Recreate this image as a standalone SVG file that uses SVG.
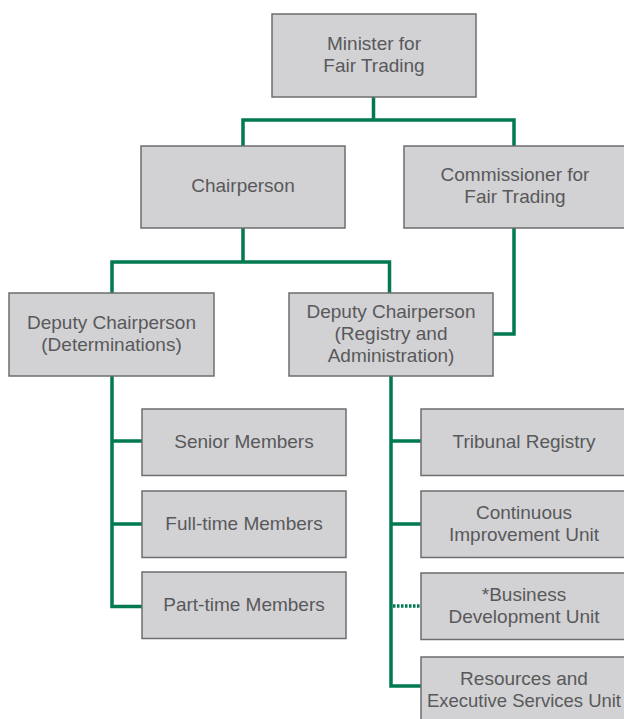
<svg xmlns="http://www.w3.org/2000/svg" width="624" height="719" viewBox="0 0 624 719">
<style>
.box{fill:#d2d1d3;stroke:#6d6e71;stroke-width:1.5}
.t{font-family:"Liberation Sans",Arial,sans-serif;font-size:19px;fill:#58595b;text-anchor:middle}
.c{fill:none;stroke:#007a4e;stroke-width:3.5;stroke-linejoin:miter;stroke-linecap:butt}
.d{fill:none;stroke:#007a4e;stroke-width:3.5;stroke-dasharray:2.5 1.5}
</style>
<rect width="624" height="719" fill="#ffffff"/>
<g id="connectors">
<path class="c" d="M373.5,97 V120 M243,228 V120 H514 V146 M243,120 V146"/>
<path class="c" d="M243,228 V262 M112,293 V262 H389.5 V293"/>
<path class="c" d="M514,228 V334 H493"/>
<path class="c" d="M112,376 V606.5 H142 M110.3,441 H142 M110.3,524 H142"/>
<path class="c" d="M391,376 V686 H421 M389.3,441 H421 M389.3,524 H421"/>
<path class="d" d="M393,606 H421"/>
</g>
<g id="minister"><rect class="box" x="272" y="14" width="204" height="83"/><text class="t" x="374" y="50">Minister for</text><text class="t" x="374" y="72">Fair Trading</text></g>
<g id="chairperson"><rect class="box" x="141" y="146" width="204" height="82"/><text class="t" x="243" y="191.5">Chairperson</text></g>
<g id="commissioner"><rect class="box" x="404" y="146" width="222" height="82"/><text class="t" x="515" y="180.8">Commissioner for</text><text class="t" x="515" y="202.8">Fair Trading</text></g>
<g id="deputy-determinations"><rect class="box" x="9" y="293" width="205" height="83"/><text class="t" x="111.5" y="328.5">Deputy Chairperson</text><text class="t" x="111.5" y="350.5">(Determinations)</text></g>
<g id="deputy-registry"><rect class="box" x="289" y="293" width="204" height="83"/><text class="t" x="391" y="318">Deputy Chairperson</text><text class="t" x="391" y="340">(Registry and</text><text class="t" x="391" y="362">Administration)</text></g>
<g id="senior-members"><rect class="box" x="142" y="409" width="204" height="66.5"/><text class="t" x="244" y="447.5">Senior Members</text></g>
<g id="fulltime-members"><rect class="box" x="142" y="491" width="204" height="66.5"/><text class="t" x="244" y="529.5">Full-time Members</text></g>
<g id="parttime-members"><rect class="box" x="142" y="572" width="204" height="66.5"/><text class="t" x="244" y="610.5">Part-time Members</text></g>
<g id="tribunal-registry"><rect class="box" x="421" y="409" width="206" height="66.5"/><text class="t" x="524" y="447.5">Tribunal Registry</text></g>
<g id="continuous-improvement"><rect class="box" x="421" y="491" width="206" height="66.5"/><text class="t" x="524" y="518.5">Continuous</text><text class="t" x="524" y="540.5">Improvement Unit</text></g>
<g id="business-development"><rect class="box" x="421" y="573" width="206" height="66.5"/><text class="t" x="524" y="600.5">*Business</text><text class="t" x="524" y="622.5">Development Unit</text></g>
<g id="resources-executive"><rect class="box" x="421" y="657" width="206" height="70"/><text class="t" x="524" y="684.5">Resources and</text><text class="t" x="524" y="706.5" textLength="194" lengthAdjust="spacingAndGlyphs">Executive Services Unit</text></g>
</svg>
